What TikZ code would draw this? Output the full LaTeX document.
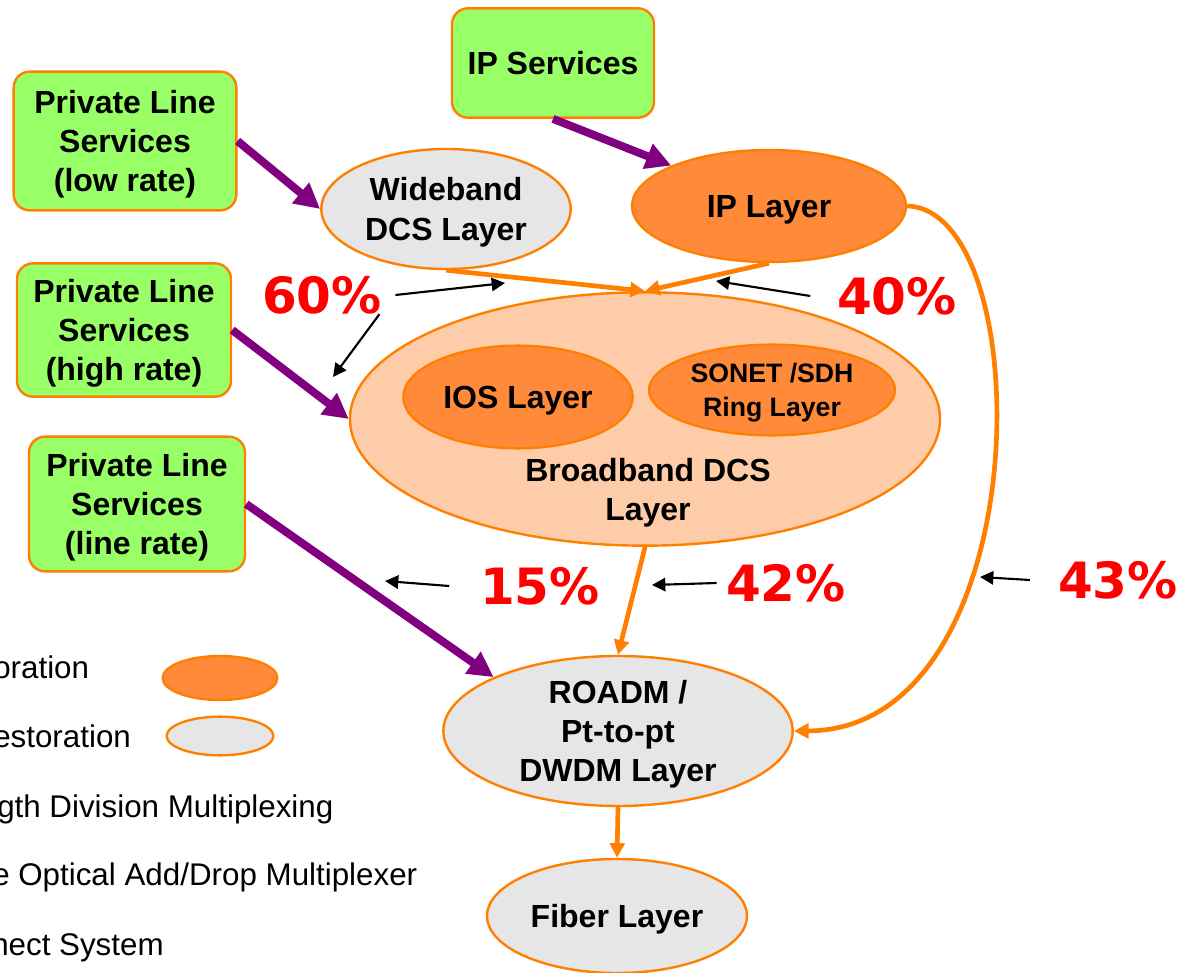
\documentclass[tikz,border=0pt]{standalone}
\usepackage{fontspec}
\setmainfont{Liberation Sans}
\newfontfamily\pctfont{DejaVu Sans}
\usetikzlibrary{shapes.geometric,arrows.meta}
\definecolor{svcgreen}{HTML}{99FF66}
\definecolor{lineorange}{HTML}{FF7F00}
\definecolor{layergrey}{HTML}{E6E6E6}
\definecolor{layerorange}{HTML}{FF8A3A}
\definecolor{bbpeach}{HTML}{FFCCAA}
\definecolor{svcpurple}{HTML}{800080}

\begin{document}
\begin{tikzpicture}[x=0.75pt,y=-0.75pt,
  service/.style={draw=lineorange,line width=1.8pt,fill=svcgreen,rounded corners=12pt,align=center,text depth=-1pt,font=\fontsize{24}{29.5}\selectfont\bfseries},
  layer/.style={ellipse,draw=lineorange,line width=1.8pt,inner sep=0pt,align=center,text depth=-1pt,font=\fontsize{24}{29.5}\selectfont\bfseries},
  pct/.style={text=red,inner sep=0pt,font=\pctfont\fontsize{37.5}{40}\selectfont\bfseries},
  feed/.style={svcpurple,line width=6pt,-{Triangle[length=19pt,width=19pt]}},
  carry/.style={lineorange,line width=3.5pt,-{Triangle[length=11pt,width=11pt]}},
  pointer/.style={black,line width=1.6pt,-{Triangle[length=10pt,width=10pt]}},
  legend/.style={anchor=base west,inner sep=0pt,font=\fontsize{23.5}{27}\selectfont}]

\clip (0,0) rectangle (1185,973);

\node[service,minimum width=151.5pt,minimum height=82pt] (ips) at (553,63) {IP Services};
\node[service,minimum width=167pt,minimum height=104pt] (plow) at (125,141) {Private Line\\Services\\(low rate)};
\node[service,minimum width=160.5pt,minimum height=100pt] (phigh) at (124,330) {Private Line\\Services\\(high rate)};
\node[service,minimum width=162pt,minimum height=101pt] (pline) at (137,504) {Private Line\\Services\\(line rate)};

\node[layer,fill=layergrey,minimum width=187pt,minimum height=90pt] (wdcs) at (446,209) {Wideband\\DCS Layer};
\node[layer,fill=layerorange,minimum width=205.5pt,minimum height=84pt] (ipl) at (769,206) {IP Layer};
\node[layer,fill=bbpeach,minimum width=442.5pt,minimum height=190pt] (bdcs) at (645,419) {};
\node[layer,fill=layerorange,minimum width=172pt,minimum height=77pt] (ios) at (518,397) {IOS Layer};
\node[layer,fill=layerorange,minimum width=184.5pt,minimum height=68pt,font=\fontsize{20}{26}\selectfont\bfseries] (sonet) at (772,390) {SONET /SDH\\Ring Layer};
\node[align=center,font=\fontsize{24}{29.5}\selectfont\bfseries] (bbtext) at (648,493) {Broadband DCS\\Layer};
\node[layer,fill=layergrey,minimum width=262pt,minimum height=112.5pt] (roadm) at (618,731) {ROADM /\\Pt-to-pt\\DWDM Layer};
\node[layer,fill=layergrey,minimum width=195pt,minimum height=85.5pt] (fiber) at (617,916) {Fiber Layer};

\node[layer,fill=layerorange,minimum width=86pt,minimum height=33pt] (legfill) at (220,678) {};
\node[layer,fill=layergrey,minimum width=80pt,minimum height=29pt] (leggrey) at (220,736) {};
\node[legend] (lt1) at (-7,678) {oration};
\node[legend] (lt2) at (-7,747) {estoration};
\node[legend] (lt3) at (-3,817) {gth Division Multiplexing};
\node[legend] (lt4) at (-8,885) {e Optical Add/Drop Multiplexer};
\node[legend] (lt5) at (-9,955) {nect System};

\node[pct] (p60) at (322,295) {60\%};
\node[pct] (p40) at (897,296) {40\%};
\node[pct] (p15) at (540,586) {15\%};
\node[pct] (p42) at (786,583) {42\%};
\node[pct] (p43) at (1118,580) {43\%};

\coordinate (t60a) at (505,283);
\coordinate (t60b) at (333,377);
\coordinate (t40) at (716,281);
\coordinate (t15) at (385,581);
\coordinate (t42) at (652,585);
\coordinate (t43) at (980,577);

\draw[feed] (plow.east) -- (wdcs.west);
\draw[feed] (ips.south) -- (ipl.north west);
\draw[feed] (phigh.east) -- (bdcs.west);
\draw[feed] (pline.east) -- (roadm.north west);

\draw[carry] (wdcs.south) -- (bdcs.north);
\draw[carry] (ipl.south) -- (bdcs.north);
\draw[carry] (bdcs.south) -- (roadm.north);
\draw[carry] (ipl.east) .. controls (1040,210) and (1040,730) .. (roadm.east);
\draw[carry] (roadm.south) -- (fiber.north);

\draw[pointer] ([xshift=10pt]p60.east) -- (t60a);
\draw[pointer] ([xshift=-2pt]p60.south east) -- (t60b);
\draw[pointer] ([xshift=-20pt]p40.west) -- (t40);
\draw[pointer] ([xshift=-23pt]p15.west) -- (t15);
\draw[pointer] ([xshift=-7pt]p42.west) -- (t42);
\draw[pointer] ([xshift=-21pt]p43.west) -- (t43);

\end{tikzpicture}
\end{document}
